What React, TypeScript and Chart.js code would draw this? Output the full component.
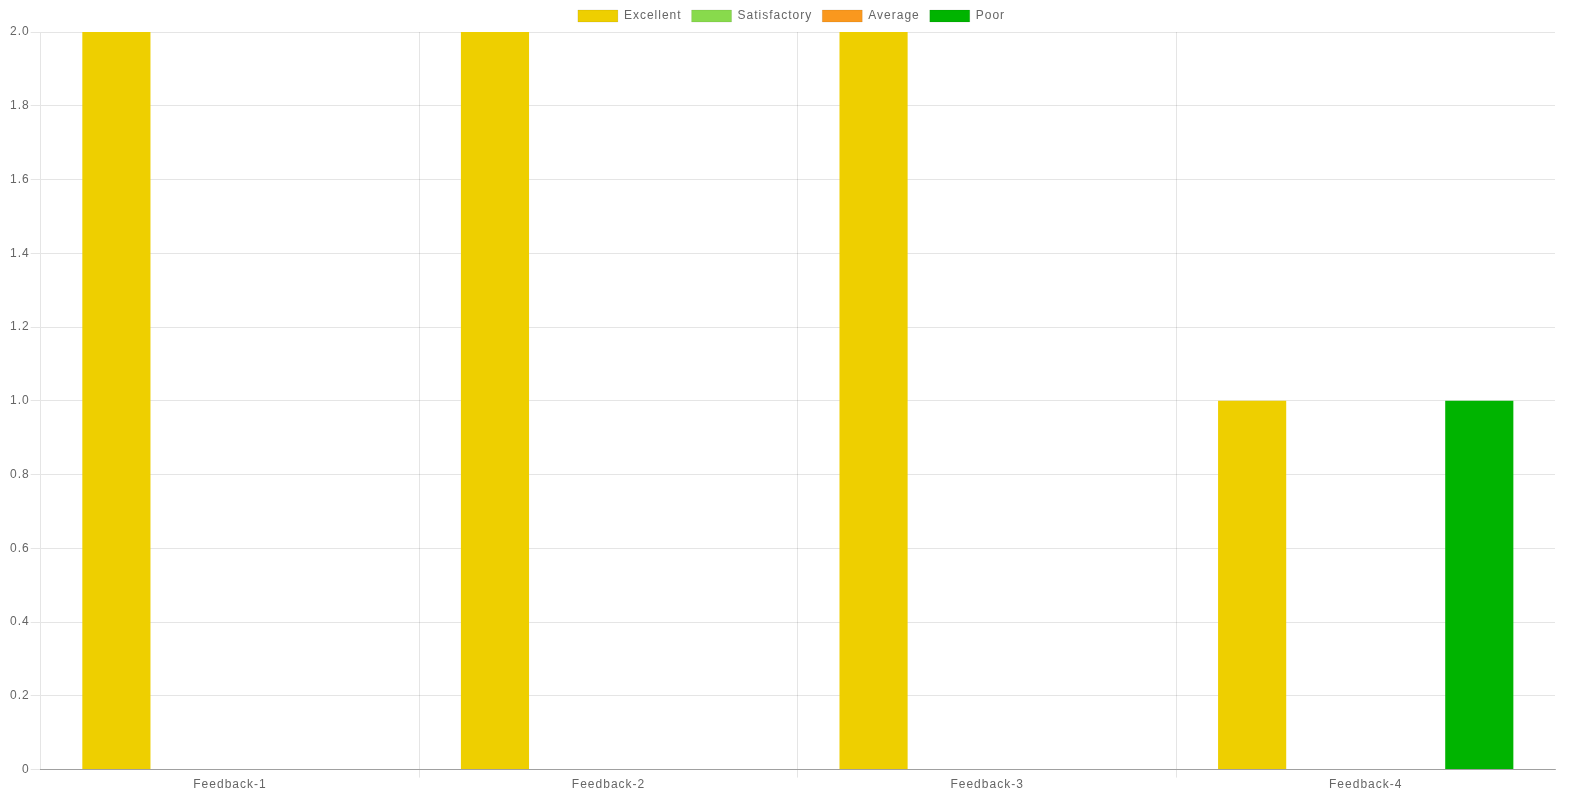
import React, { useEffect, useRef } from "react";
import { Chart, registerables } from "chart.js";

Chart.register(...registerables);

const categories = ["Feedback-1", "Feedback-2", "Feedback-3", "Feedback-4"];
const seriesNames = ["Excellent", "Satisfactory", "Average", "Poor"];
const excellent = [2, 2, 2, 1];
const satisfactory = [0, 0, 0, 0];
const average = [0, 0, 0, 0];
const poor = [0, 0, 0, 1];
const colors = ["#eecf00", "#88da4c", "#fa981e", "#00b400"];

const spacingPlugin = {
  id: "spacing",
  beforeUpdate(chart: any) {
    chart.ctx.letterSpacing = "1px";
  },
  beforeDraw(chart: any) {
    chart.ctx.letterSpacing = "1px";
  },
};

const FONT = "Arial, 'Liberation Sans', sans-serif";

export default function App() {
  const ref = useRef<HTMLCanvasElement>(null);
  useEffect(() => {
    if (!ref.current) return;
    const values = [excellent, satisfactory, average, poor];
    const chart = new Chart(ref.current, {
      type: "bar",
      data: {
        labels: categories,
        datasets: seriesNames.map((n, i) => ({
          label: n,
          data: values[i],
          backgroundColor: colors[i],
          borderWidth: 0,
          yAxisID: "y",
        })),
      },
      plugins: [spacingPlugin],
      options: {
        animation: false,
        responsive: true,
        maintainAspectRatio: false,
        layout: { padding: { left: 9, right: 21, top: 0, bottom: 5 } },
        font: { family: FONT, size: 12 },
        color: "#666",
        plugins: {
          tooltip: { enabled: false },
          legend: {
            position: "top",
            labels: {
              boxWidth: 40,
              boxHeight: 12,
              padding: 10,
              color: "#666",
              font: { family: FONT, size: 12 },
              generateLabels: (c: any) =>
                c.data.datasets.map((d: any, i: number) => ({
                  text: d.label,
                  fillStyle: d.backgroundColor,
                  strokeStyle: "rgba(0,0,0,0.08)",
                  lineWidth: 1,
                  hidden: false,
                  datasetIndex: i,
                  fontColor: "#666",
                })),
            },
          },
        },
        scales: {
          x: {
            grid: {
              color: (ctx: any) =>
                ctx.type !== "tick" || ctx.index === 0 ? "rgba(0,0,0,0)" : "rgba(0,0,0,0.1)",
              offset: true,
              tickLength: 8,
            },
            border: { color: "rgba(0,0,0,0.3)" },
            ticks: { color: "#666", padding: 0, font: { family: FONT, size: 12 } },
          },
          y: {
            min: 0,
            max: 2,
            grid: { color: "rgba(0,0,0,0.1)", tickLength: 10 },
            border: { color: "rgba(0,0,0,0.1)" },
            ticks: { color: "#666", padding: 1, stepSize: 0.2, font: { family: FONT, size: 12 } },
          },
          yPad: {
            type: "linear",
            position: "right",
            display: true,
            min: 0,
            max: 2,
            grid: { display: false, drawTicks: false },
            border: { display: false },
            ticks: { display: false },
            afterFit: (scale: any) => {
              scale.width = 19;
            },
          },
        },
      },
    } as any);
    return () => chart.destroy();
  }, []);
  return (
    <div style={{ position: "fixed", left: 0, top: 0, width: "100vw", height: "100vh" }}>
      <canvas ref={ref} />
    </div>
  );
}
